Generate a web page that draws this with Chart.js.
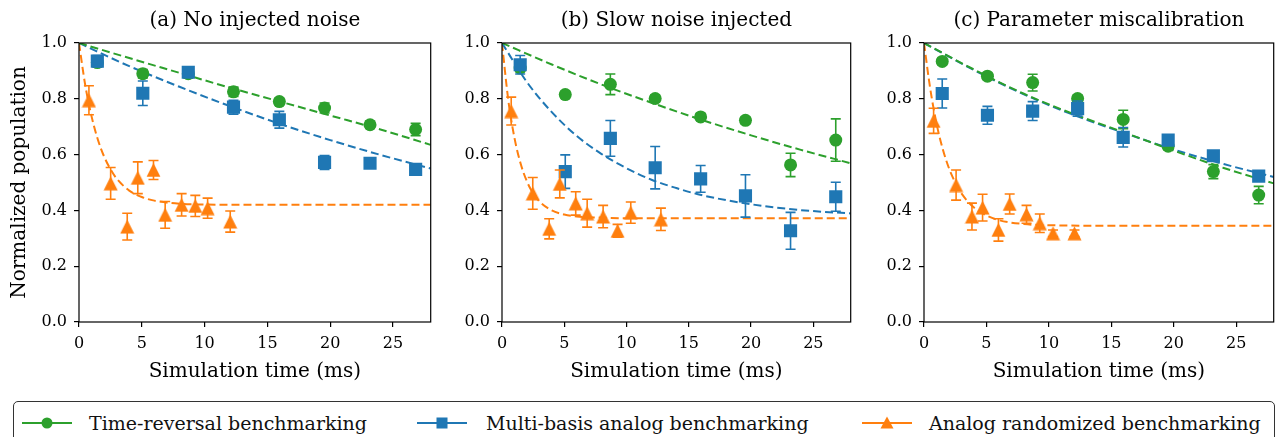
<!DOCTYPE html>
<html>
<head>
<meta charset="utf-8">
<script src="https://cdn.jsdelivr.net/npm/chart.js@4.4.1/dist/chart.umd.min.js"></script>
<style>
  body { margin: 0; background: #fff; }
  #fig { position: relative; width: 1283px; height: 437px; overflow: hidden; font-family: "DejaVu Serif", serif; }
  #fig canvas { position: absolute; top: 0; }
  #legend { position: absolute; left: 13px; top: 401px; width: 1260px; height: 48px; border: 1.3px solid #333; border-radius: 5px; background: #fff; }
  .item { position: absolute; top: 8px; height: 26px; font-size: 19px; line-height: 26px; color: #111; white-space: nowrap; }
  .item svg { position: absolute; top: 3px; left: 0; }
  .item span { position: absolute; }
</style>
</head>
<body>
<div id="fig">
  <canvas id="panelA" width="440" height="395" style="left:0px"></canvas>
  <canvas id="panelB" width="420" height="395" style="left:440px"></canvas>
  <canvas id="panelC" width="423" height="395" style="left:860px"></canvas>
  <div id="legend"></div>
</div>
<script>
// x positions shared by the two slow benchmarks (ms)
const benchTimes = [1.46, 5.08, 8.7, 12.3, 15.95, 19.55, 23.17, 26.8];

// (a) no injected noise
const trA = [0.93, 0.89, 0.89, 0.825, 0.79, 0.767, 0.707, 0.69];
const trAErr = [0.015, 0.015, 0.015, 0.017, 0.012, 0.018, 0.012, 0.022];
const mbA = [0.935, 0.82, 0.895, 0.77, 0.725, 0.572, 0.569, 0.547];
const mbAErr = [0.02, 0.044, 0.01, 0.025, 0.03, 0.025, 0.012, 0.015];
const arATimes = [0.79, 2.52, 3.84, 4.68, 5.93, 6.86, 8.17, 9.26, 10.24, 12.04];
const arA = [0.795, 0.497, 0.342, 0.517, 0.545, 0.384, 0.42, 0.416, 0.408, 0.36];
const arAErr = [0.052, 0.057, 0.048, 0.057, 0.034, 0.048, 0.04, 0.038, 0.036, 0.038];

// (b) slow noise injected
const trB = [0.91, 0.815, 0.852, 0.801, 0.735, 0.723, 0.563, 0.652];
const trBErr = [0.012, 0.012, 0.037, 0.012, 0.012, 0.012, 0.042, 0.076];
const mbB = [0.922, 0.539, 0.658, 0.553, 0.513, 0.452, 0.327, 0.449];
const mbBErr = [0.033, 0.06, 0.064, 0.076, 0.048, 0.076, 0.066, 0.052];
const arBTimes = [0.74, 2.47, 3.79, 4.64, 5.92, 6.84, 8.12, 9.28, 10.34, 12.76];
const arB = [0.756, 0.461, 0.334, 0.495, 0.425, 0.39, 0.378, 0.327, 0.392, 0.368];
const arBErr = [0.05, 0.057, 0.036, 0.05, 0.042, 0.05, 0.04, 0.023, 0.038, 0.04];

// (c) parameter miscalibration
const trC = [0.934, 0.881, 0.858, 0.801, 0.726, 0.63, 0.539, 0.455];
const trCErr = [0.012, 0.012, 0.03, 0.012, 0.033, 0.012, 0.025, 0.031];
const mbC = [0.819, 0.741, 0.756, 0.765, 0.662, 0.652, 0.596, 0.523];
const mbCErr = [0.052, 0.032, 0.034, 0.027, 0.035, 0.012, 0.015, 0.012];
const arCTimes = [0.77, 2.57, 3.84, 4.69, 5.96, 6.86, 8.21, 9.27, 10.33, 12.05];
const arC = [0.721, 0.491, 0.378, 0.41, 0.33, 0.423, 0.386, 0.354, 0.318, 0.318];
const arCErr = [0.045, 0.054, 0.048, 0.048, 0.04, 0.036, 0.032, 0.033, 0.012, 0.012];

// dashed fit curves
const slowFitTimes = [0, 4, 8, 12, 16, 20, 24, 28];
const trFitA = [1.0, 0.946, 0.893, 0.84, 0.79, 0.74, 0.69, 0.635];
const mbFitA = [1.0, 0.917, 0.843, 0.774, 0.71, 0.652, 0.599, 0.55];
const trFitB = [1.0, 0.923, 0.851, 0.786, 0.725, 0.669, 0.617, 0.569];
const trFitC = [1.0, 0.905, 0.818, 0.745, 0.68, 0.614, 0.552, 0.497];
const mbFitC = [1.0, 0.903, 0.816, 0.742, 0.678, 0.618, 0.566, 0.52];
const mbFitBTimes = [0, 2, 4, 6, 8, 10, 12, 14, 16, 20, 24, 28];
const mbFitB = [1.0, 0.86, 0.752, 0.667, 0.602, 0.551, 0.51, 0.48, 0.455, 0.422, 0.401, 0.389];
const arFitTimes = [0, 0.5, 1, 1.5, 2, 2.5, 3, 4, 5, 6, 8, 10, 14, 28];
const arFitA = [1.0, 0.848, 0.737, 0.654, 0.593, 0.548, 0.514, 0.471, 0.448, 0.435, 0.424, 0.421, 0.42, 0.42];
const arFitB = [1.0, 0.797, 0.66, 0.567, 0.504, 0.461, 0.432, 0.4, 0.385, 0.378, 0.374, 0.372, 0.372, 0.372];
const arFitC = [1.0, 0.836, 0.712, 0.62, 0.551, 0.5, 0.461, 0.41, 0.382, 0.365, 0.351, 0.347, 0.345, 0.345];

const xTicks = [0, 5, 10, 15, 20, 25];
const yTicks = [0, 0.2, 0.4, 0.6, 0.8, 1.0];
const panelTitles = ['(a) No injected noise', '(b) Slow noise injected', '(c) Parameter miscalibration'];
const seriesNames = ['Time-reversal benchmarking', 'Multi-basis analog benchmarking', 'Analog randomized benchmarking'];

const GREEN = '#2ca02c', BLUE = '#1f77b4', ORANGE = '#ff7f0e';
const SERIF = '"DejaVu Serif", serif';

// matplotlib style '^' marker: centred on its bounding box
function triangleImage(color, size) {
  const c = document.createElement('canvas');
  c.width = size; c.height = size;
  const g = c.getContext('2d');
  g.fillStyle = color;
  g.beginPath();
  g.moveTo(size / 2, 0.5);
  g.lineTo(size - 0.5, size - 0.5);
  g.lineTo(0.5, size - 0.5);
  g.closePath();
  g.fill();
  return c;
}
const triMarker = triangleImage(ORANGE, 15);

function pts(xs, ys) {
  return xs.map((x, i) => ({x: x, y: ys[i]}));
}

const errorBars = {
  id: 'errorBars',
  beforeDatasetDraw(chart, args) {
    const ds = chart.data.datasets[args.index];
    if (!ds.errs) return;
    const ctx = chart.ctx, xs = chart.scales.x, ys = chart.scales.y;
    ctx.save();
    ctx.strokeStyle = ds.backgroundColor;
    ctx.lineWidth = 1.6;
    ds.data.forEach((p, i) => {
      const px = xs.getPixelForValue(p.x);
      const top = ys.getPixelForValue(p.y + ds.errs[i]);
      const bot = ys.getPixelForValue(p.y - ds.errs[i]);
      ctx.beginPath();
      ctx.moveTo(px, top); ctx.lineTo(px, bot);
      ctx.moveTo(px - 5, top); ctx.lineTo(px + 5, top);
      ctx.moveTo(px - 5, bot); ctx.lineTo(px + 5, bot);
      ctx.stroke();
    });
    ctx.restore();
  }
};

const frameAndTitle = {
  id: 'frameAndTitle',
  afterDraw(chart, args, opts) {
    const {ctx, chartArea: a} = chart;
    ctx.save();
    ctx.strokeStyle = '#000';
    ctx.lineWidth = 1.2;
    ctx.strokeRect(a.left, a.top, a.right - a.left, a.bottom - a.top);
    ctx.fillStyle = '#000';
    ctx.font = '20px ' + SERIF;
    ctx.textAlign = 'center';
    ctx.textBaseline = 'middle';
    ctx.fillText(opts.text, (a.left + a.right) / 2, 21);
    ctx.restore();
  }
};

function scatterSet(xs, ys, errs, color, style, radius, order) {
  return {
    data: pts(xs, ys), errs: errs, showLine: false,
    backgroundColor: color, borderColor: color, borderWidth: 0,
    pointStyle: style, pointRadius: radius, order: order
  };
}

function fitSet(xs, ys, color) {
  return {
    data: pts(xs, ys), showLine: true, borderColor: color, borderWidth: 2,
    borderDash: [8, 4], pointRadius: 0, cubicInterpolationMode: 'monotone',
    fill: false, order: 10
  };
}

function makePanel(id, title, axisWidth, rightPad, showYTitle, series) {
  const [tr, trErr, mb, mbErr, arT, ar, arErr, fits] = series;
  new Chart(document.getElementById(id), {
    type: 'scatter',
    data: {
      datasets: [
        ...fits,
        scatterSet(benchTimes, tr, trErr, GREEN, 'circle', 6.5, 2),
        scatterSet(benchTimes, mb, mbErr, BLUE, 'rect', 9.3, 1),
        scatterSet(arT, ar, arErr, ORANGE, triMarker, 7.5, 0)
      ]
    },
    options: {
      responsive: false,
      animation: false,
      layout: { padding: { top: 43, right: rightPad, left: 0, bottom: 0 } },
      plugins: {
        legend: { display: false },
        tooltip: { enabled: false },
        frameAndTitle: { text: title }
      },
      scales: {
        x: {
          type: 'linear', min: 0, max: 28,
          afterBuildTicks: s => { s.ticks = xTicks.map(v => ({value: v})); },
          afterFit: s => { s.height = 73; },
          grid: { display: true, drawOnChartArea: false, drawTicks: true, tickLength: 5, color: '#000', lineWidth: 1.2 },
          border: { display: false },
          ticks: { color: '#000', font: { family: SERIF, size: 16 }, padding: 7, maxRotation: 0 },
          title: { display: true, text: 'Simulation time (ms)', color: '#000', font: { family: SERIF, size: 20 }, padding: { top: 0, bottom: 11 } }
        },
        y: {
          type: 'linear', min: 0, max: 1,
          afterBuildTicks: s => { s.ticks = yTicks.map(v => ({value: v})); },
          afterFit: s => { s.width = axisWidth; },
          grid: { display: true, drawOnChartArea: false, drawTicks: true, tickLength: 5, color: '#000', lineWidth: 1.2 },
          border: { display: false },
          ticks: { color: '#000', font: { family: SERIF, size: 16 }, padding: 7, callback: v => v.toFixed(1) },
          title: { display: showYTitle, text: 'Normalized population', color: '#000', font: { family: SERIF, size: 20 }, padding: { top: 8, bottom: 0 } }
        }
      }
    },
    plugins: [errorBars, frameAndTitle]
  });
}

makePanel('panelA', panelTitles[0], 79, 8, true, [trA, trAErr, mbA, mbAErr, arATimes, arA, arAErr,
  [fitSet(slowFitTimes, trFitA, GREEN), fitSet(slowFitTimes, mbFitA, BLUE), fitSet(arFitTimes, arFitA, ORANGE)]]);
makePanel('panelB', panelTitles[1], 62, 6, false, [trB, trBErr, mbB, mbBErr, arBTimes, arB, arBErr,
  [fitSet(slowFitTimes, trFitB, GREEN), fitSet(mbFitBTimes, mbFitB, BLUE), fitSet(arFitTimes, arFitB, ORANGE)]]);
makePanel('panelC', panelTitles[2], 64, 6, false, [trC, trCErr, mbC, mbCErr, arCTimes, arC, arCErr,
  [fitSet(slowFitTimes, trFitC, GREEN), fitSet(slowFitTimes, mbFitC, BLUE), fitSet(arFitTimes, arFitC, ORANGE)]]);

// legend spanning the figure
const legendItems = [
  { color: GREEN, marker: '<circle cx="25" cy="10" r="5.5"/>', left: 8, textLeft: 75 },
  { color: BLUE, marker: '<rect x="19.5" y="4.5" width="11" height="11"/>', left: 403, textLeft: 472 },
  { color: ORANGE, marker: '<polygon points="25,3.5 31.5,15.5 18.5,15.5"/>', left: 848, textLeft: 915 }
];
const legend = document.getElementById('legend');
legendItems.forEach((it, i) => {
  const div = document.createElement('div');
  div.className = 'item';
  div.style.left = it.left + 'px';
  div.innerHTML =
    '<svg width="50" height="20"><line x1="0" y1="10" x2="50" y2="10" stroke="' + it.color + '" stroke-width="2.2"/>' +
    '<g fill="' + it.color + '">' + it.marker + '</g></svg>' +
    '<span style="left:' + (it.textLeft - it.left) + 'px">' + seriesNames[i] + '</span>';
  legend.appendChild(div);
});
</script>
</body>
</html>
